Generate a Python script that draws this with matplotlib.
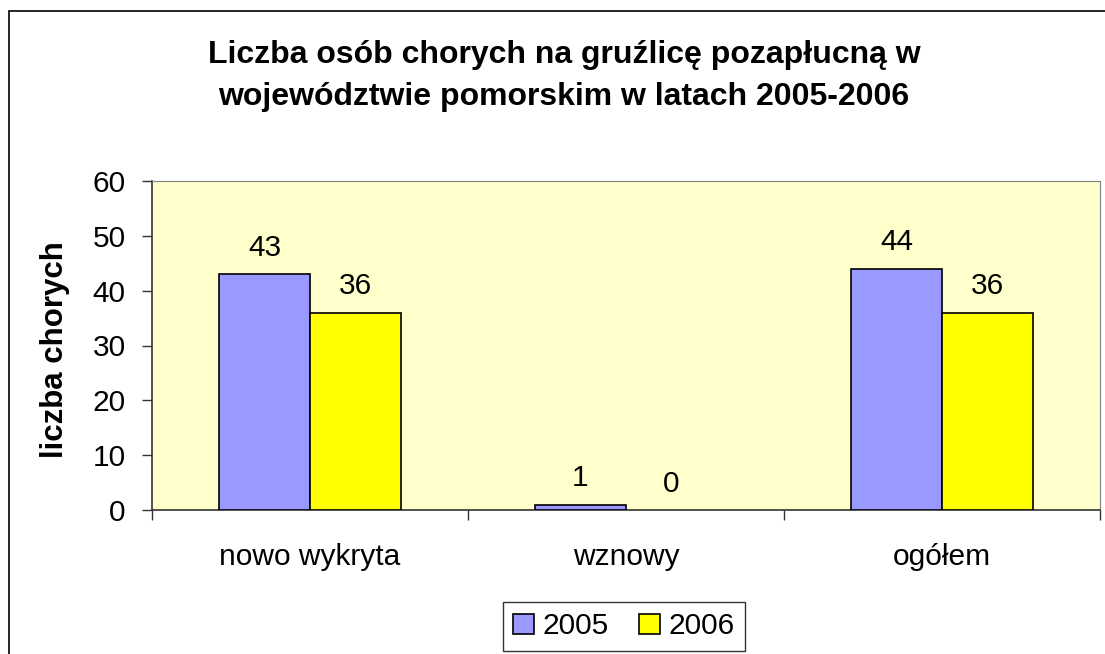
import numpy as np
import matplotlib.pyplot as plt
from matplotlib.patches import Rectangle

plt.rcParams['font.family'] = ['Liberation Sans', 'DejaVu Sans']

categories = ["nowo wykryta", "wznowy", "ogółem"]
years = ["2005", "2006"]
values_2005 = [43, 1, 44]
values_2006 = [36, 0, 36]

fig = plt.figure(figsize=(11.05, 6.54), dpi=100)
ax = fig.add_axes([152 / 1105, 1 - 510 / 654, 948 / 1105, 329 / 654])
ax.set_facecolor("#FFFFCC")

x = np.arange(len(categories))
w = 0.288
b1 = ax.bar(x - w / 2, values_2005, w, color="#9999FF", edgecolor="black", linewidth=1.2, label=years[0], zorder=3)
b2 = ax.bar(x + w / 2, values_2006, w, color="#FFFF00", edgecolor="black", linewidth=1.2, label=years[1], zorder=3)
for bar in list(b1) + list(b2):
    if bar.get_height() == 0:
        bar.set_linewidth(0)
ax.bar_label(b1, padding=9, fontsize=21.5)
ax.bar_label(b2, padding=9, fontsize=21.5)

ax.set_xlim(-0.5, 2.5)
ax.set_ylim(0, 60)
ax.set_yticks(range(0, 61, 10))
ax.tick_params(axis="y", labelsize=21.5, length=7, width=1, pad=12, color="#333333")
ax.set_xticks(x)
ax.set_xticklabels(categories)
ax.tick_params(axis="x", which="major", length=0, labelsize=21.5, pad=23.5)
ax.set_xticks(np.arange(-0.5, 3, 1), minor=True)
ax.tick_params(axis="x", which="minor", length=7, width=1, color="#333333")

for s in ["top", "right"]:
    ax.spines[s].set_color("#808080")
for s in ["left", "bottom"]:
    ax.spines[s].set_color("#333333")
    ax.spines[s].set_linewidth(1.2)

fig.text(55 / 1105, 1 - 350 / 654, "liczba chorych", rotation=90, ha="center", va="center",
         fontsize=22.5, fontweight="bold")
fig.text(564 / 1105, 1 - 55 / 654, "Liczba osób chorych na gruźlicę pozapłucną w",
         ha="center", va="center", fontsize=23, fontweight="bold")
fig.text(564 / 1105, 1 - 97 / 654, "województwie pomorskim w latach 2005-2006",
         ha="center", va="center", fontsize=23, fontweight="bold")

leg = ax.legend(loc="upper center", bbox_to_anchor=(624 / 1105, 1 - 602 / 654),
                bbox_transform=fig.transFigure, ncol=2, fontsize=21.5, frameon=True,
                fancybox=False, edgecolor="black", handlelength=0.7, handleheight=0.7,
                handletextpad=0.3, columnspacing=1.0, borderpad=0.35, borderaxespad=0)
leg.get_frame().set_linewidth(1.0)

fig.patches.append(Rectangle((8.5 / 1105, -0.1), 1.2, 1 - 11 / 654 + 0.1, transform=fig.transFigure,
                             fill=False, edgecolor="black", linewidth=1.2))

fig.savefig("out.png", dpi=100)
